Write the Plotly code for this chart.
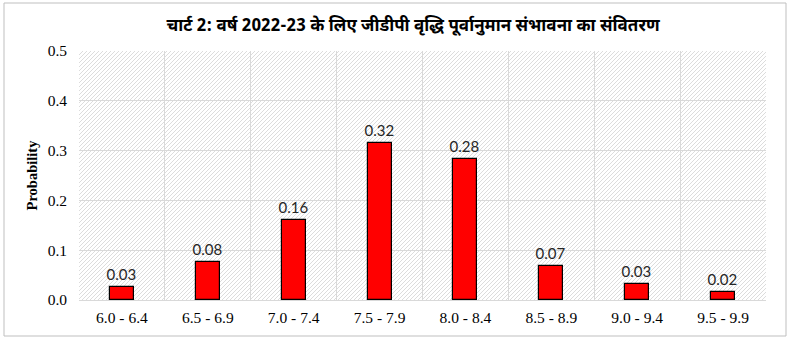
import base64
import plotly.graph_objects as go

# Growth ranges and their forecast probabilities
ranges = ["6.0 - 6.4", "6.5 - 6.9", "7.0 - 7.4", "7.5 - 7.9",
          "8.0 - 8.4", "8.5 - 8.9", "9.0 - 9.4", "9.5 - 9.9"]
probability = [0.027, 0.077, 0.161, 0.316, 0.283, 0.068, 0.032, 0.017]
y_ticks = [0.0, 0.1, 0.2, 0.3, 0.4, 0.5]

title_text = "चार्ट 2: वर्ष 2022-23 के लिए जीडीपी वृद्धि पूर्वानुमान संभावना का संवितरण"

W, H = 790, 341
L, R, T, B = 79, 24, 51, 41
pw, ph = W - L - R, H - T - B

# Light diagonal hatch for the plotting area
svg = (
    f'<svg xmlns="http://www.w3.org/2000/svg" width="{pw}" height="{ph}">'
    '<defs><pattern id="h" width="4" height="4" patternUnits="userSpaceOnUse">'
    '<rect width="4" height="4" fill="#ffffff"/>'
    '<path d="M-1,1 L1,-1 M0,4 L4,0 M3,5 L5,3" stroke="#dcdcdc" stroke-width="1"/>'
    '</pattern></defs>'
    f'<rect width="{pw}" height="{ph}" fill="url(#h)"/></svg>'
)
hatch = "data:image/svg+xml;base64," + base64.b64encode(svg.encode()).decode()

fig = go.Figure(
    go.Bar(
        x=ranges,
        y=probability,
        width=0.28,
        marker=dict(color="#ff0000", line=dict(color="#000000", width=1.2)),
        text=[f"{v:.2f}" for v in probability],
        textposition="outside",
        constraintext="none",
        textfont=dict(family="Lato, Carlito, sans-serif", size=15, color="#262626"),
        cliponaxis=False,
    )
)

fig.add_layout_image(
    source=hatch, xref="paper", yref="paper", x=0, y=1,
    sizex=1, sizey=1, sizing="stretch", layer="below",
    xanchor="left", yanchor="top",
)

# Outer chart border
fig.add_shape(
    type="rect", xref="paper", yref="paper",
    x0=(4 - L) / pw, x1=(786 - L) / pw,
    y0=(H - B - 336) / ph, y1=(H - B - 3) / ph,
    line=dict(color="#bfbfbf", width=1), fillcolor="rgba(0,0,0,0)", layer="below",
)

fig.update_layout(
    width=W, height=H,
    margin=dict(l=L, r=R, t=T, b=B),
    paper_bgcolor="#ffffff",
    plot_bgcolor="#ffffff",
    showlegend=False,
    bargap=0,
    title=dict(
        text=f"<b>{title_text}</b>",
        x=413 / W, xanchor="center", y=1 - 25 / H, yanchor="middle",
        font=dict(family="Noto Sans Devanagari, Noto Sans, sans-serif", size=17, color="#000000"),
    ),
    xaxis=dict(
        type="category",
        range=[-0.5, 7.5],
        tickson="boundaries",
        showgrid=True, gridcolor="#d9d9d9", gridwidth=1,
        showline=False, ticks="", ticklen=0,
        ticklabelstandoff=6,
        tickfont=dict(family="Liberation Serif, serif", size=15.5, color="#000000"),
        fixedrange=True,
    ),
    yaxis=dict(
        range=[0, 0.5],
        tickvals=y_ticks,
        tickformat=".1f",
        showgrid=True, gridcolor="#d9d9d9", gridwidth=1,
        zeroline=True, zerolinecolor="#d9d9d9", zerolinewidth=1,
        ticks="", ticklabelstandoff=11,
        tickfont=dict(family="Liberation Serif, serif", size=15.5, color="#000000"),
        title=dict(text="<b>Probability</b>", standoff=6,
                   font=dict(family="Liberation Serif, serif", size=14.5, color="#000000")),
        fixedrange=True,
    ),
)

fig.write_html("out.html")
